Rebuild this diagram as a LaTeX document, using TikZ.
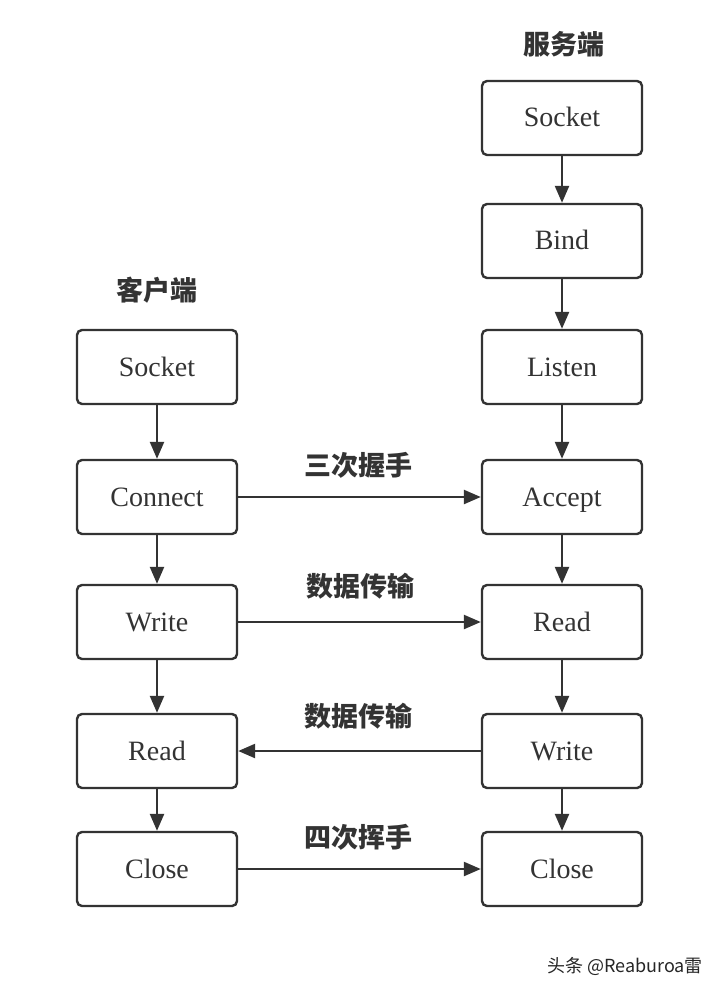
\documentclass[tikz,border=0pt]{standalone}
\usepackage{fontspec}
\setmainfont{Liberation Serif}
\newfontfamily\cjk{Noto Sans CJK SC}
\usetikzlibrary{arrows.meta}
\definecolor{ink}{HTML}{333333}
\tikzset{
  box/.style={draw=ink, line width=2.4pt, rounded corners=5pt, minimum width=160pt, minimum height=74pt, inner sep=0pt, text height=18pt, text depth=0pt, text=ink, font=\fontsize{28}{30}\selectfont},
  conn/.style={draw=ink, line width=2.4pt, -{Triangle[length=17pt,width=14pt]}},
  lbl/.style={text=ink, font=\cjk\bfseries\fontsize{27}{30}\selectfont, inner sep=0pt},
}
\begin{document}
\begin{tikzpicture}[x=1pt,y=-1pt]
\useasboundingbox (0,0) rectangle (726,992);
\fill[white] (0,0) rectangle (726,992);
% server
\node[lbl] (st) at (564,44) {服务端};
\node[box] (s1) at (562,118) {Socket};
\node[box] (s2) at (562,241) {Bind};
\node[box] (s3) at (562,367) {Listen};
\node[box] (s4) at (562,497) {Accept};
\node[box] (s5) at (562,622) {Read};
\node[box] (s6) at (562,751) {Write};
\node[box] (s7) at (562,869) {Close};
% client
\node[lbl] (ct) at (157,290) {客户端};
\node[box] (c1) at (157,367) {Socket};
\node[box] (c2) at (157,497) {Connect};
\node[box] (c3) at (157,622) {Write};
\node[box] (c4) at (157,751) {Read};
\node[box] (c5) at (157,869) {Close};
% vertical
\draw[conn] (s1) -- (s2);
\draw[conn] (s2) -- (s3);
\draw[conn] (s3) -- (s4);
\draw[conn] (s4) -- (s5);
\draw[conn] (s5) -- (s6);
\draw[conn] (s6) -- (s7);
\draw[conn] (c1) -- (c2);
\draw[conn] (c2) -- (c3);
\draw[conn] (c3) -- (c4);
\draw[conn] (c4) -- (c5);
% horizontal
\draw[conn] (c2) -- (s4);
\draw[conn] (c3) -- (s5);
\draw[conn] (s6) -- (c4);
\draw[conn] (c5) -- (s7);
\node[lbl] (l1) at (358,465) {三次握手};
\node[lbl] (l2) at (360,586) {数据传输};
\node[lbl] (l3) at (358,716) {数据传输};
\node[lbl] (l4) at (358,837) {四次挥手};
\node[font=\cjk\fontsize{18}{20}\selectfont, text=black!85, inner sep=0pt] (wm) at (625,966) {头条 @Reaburoa雷};
\end{tikzpicture}
\end{document}
